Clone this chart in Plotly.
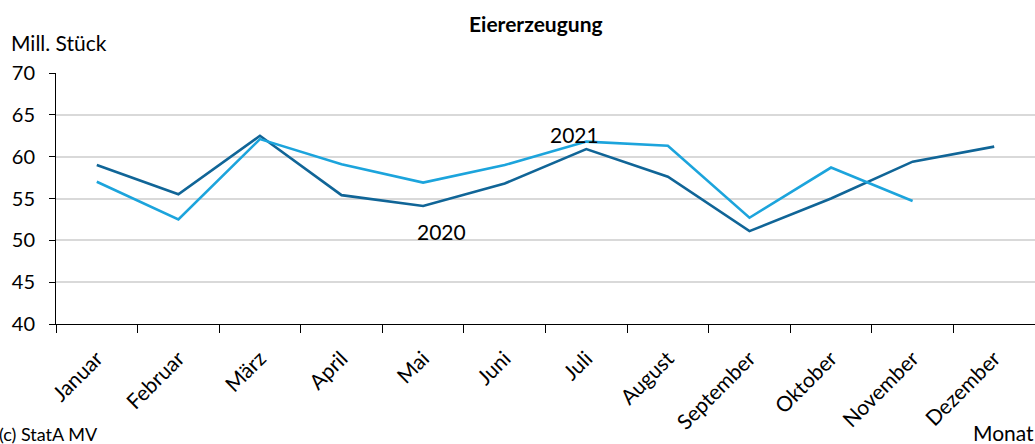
import plotly.graph_objects as go

months = ["Januar", "Februar", "März", "April", "Mai", "Juni", "Juli",
          "August", "September", "Oktober", "November", "Dezember"]
y2020 = [59.0, 55.5, 62.5, 55.4, 54.1, 56.8, 60.9, 57.6, 51.1, 55.0, 59.4, 61.2]
y2021 = [57.0, 52.5, 62.1, 59.1, 56.9, 59.0, 61.8, 61.3, 52.7, 58.7, 54.7]
y_ticks = [40, 45, 50, 55, 60, 65, 70]

dark = "#106597"
light = "#1ca4dc"
font = "Lato"

W, H = 1035, 444
l, r, t, b = 56, 0, 73, 120
pw, ph = W - l - r, H - t - b

def px_x(px):
    return (px - l) / pw

def px_y(py):
    return (H - b - py) / ph

fig = go.Figure()
fig.add_trace(go.Scatter(x=months, y=y2020, mode="lines", name="2020",
                         line=dict(color=dark, width=2.6)))
fig.add_trace(go.Scatter(x=months[:len(y2021)], y=y2021, mode="lines", name="2021",
                         line=dict(color=light, width=2.6)))

fig.update_layout(
    width=W, height=H,
    margin=dict(l=l, r=r, t=t, b=b, autoexpand=False),
    paper_bgcolor="white", plot_bgcolor="white",
    showlegend=False,
    font=dict(family=font, color="#000000"),
)
fig.update_xaxes(
    type="category", categoryorder="array", categoryarray=months,
    range=[-0.5, 11.5], tickson="boundaries",
    ticks="outside", ticklen=8, tickcolor="#000000",
    showline=True, linecolor="#000000", linewidth=1,
    showgrid=False, tickangle=-45, automargin=False,
    tickfont=dict(size=21, family=font), ticklabelstandoff=13,
)
fig.update_yaxes(
    range=[40, 70], tickvals=y_ticks,
    ticks="outside", ticklen=6, tickcolor="#000000",
    showline=True, linecolor="#000000", linewidth=1,
    showgrid=True, gridcolor="#d9d9d9", gridwidth=1.5,
    tickfont=dict(size=20, family=font), zeroline=False, automargin=False,
    ticklabelstandoff=10,
)

fig.add_annotation(text="<b>Eiererzeugung</b>", x=px_x(536), y=px_y(24),
                   xref="paper", yref="paper", showarrow=False,
                   xanchor="center", yanchor="middle", font=dict(size=21, family=font))
fig.add_annotation(text="2020", x="Mai", y=51.0, xref="x", yref="y",
                   xshift=18, showarrow=False, font=dict(size=21, family=font))
fig.add_annotation(text="2021", x="Juli", y=62.7, xref="x", yref="y",
                   xshift=-12, showarrow=False, font=dict(size=21, family=font))
fig.add_annotation(text="Mill. Stück", x=px_x(9), y=px_y(42), xref="paper", yref="paper",
                   showarrow=False, xanchor="left", yanchor="middle",
                   font=dict(size=21, family=font))
fig.add_annotation(text="(c) StatA MV", x=px_x(-3), y=px_y(434), xref="paper", yref="paper",
                   showarrow=False, xanchor="left", yanchor="middle",
                   font=dict(size=18, family=font))
fig.add_annotation(text="Monat", x=px_x(1036), y=px_y(432), xref="paper", yref="paper",
                   showarrow=False, xanchor="right", yanchor="middle",
                   font=dict(size=21, family=font))

fig.write_html("out.html", config={"displayModeBar": False},
               post_script="document.body.style.margin='0';document.body.style.overflow='hidden';")
